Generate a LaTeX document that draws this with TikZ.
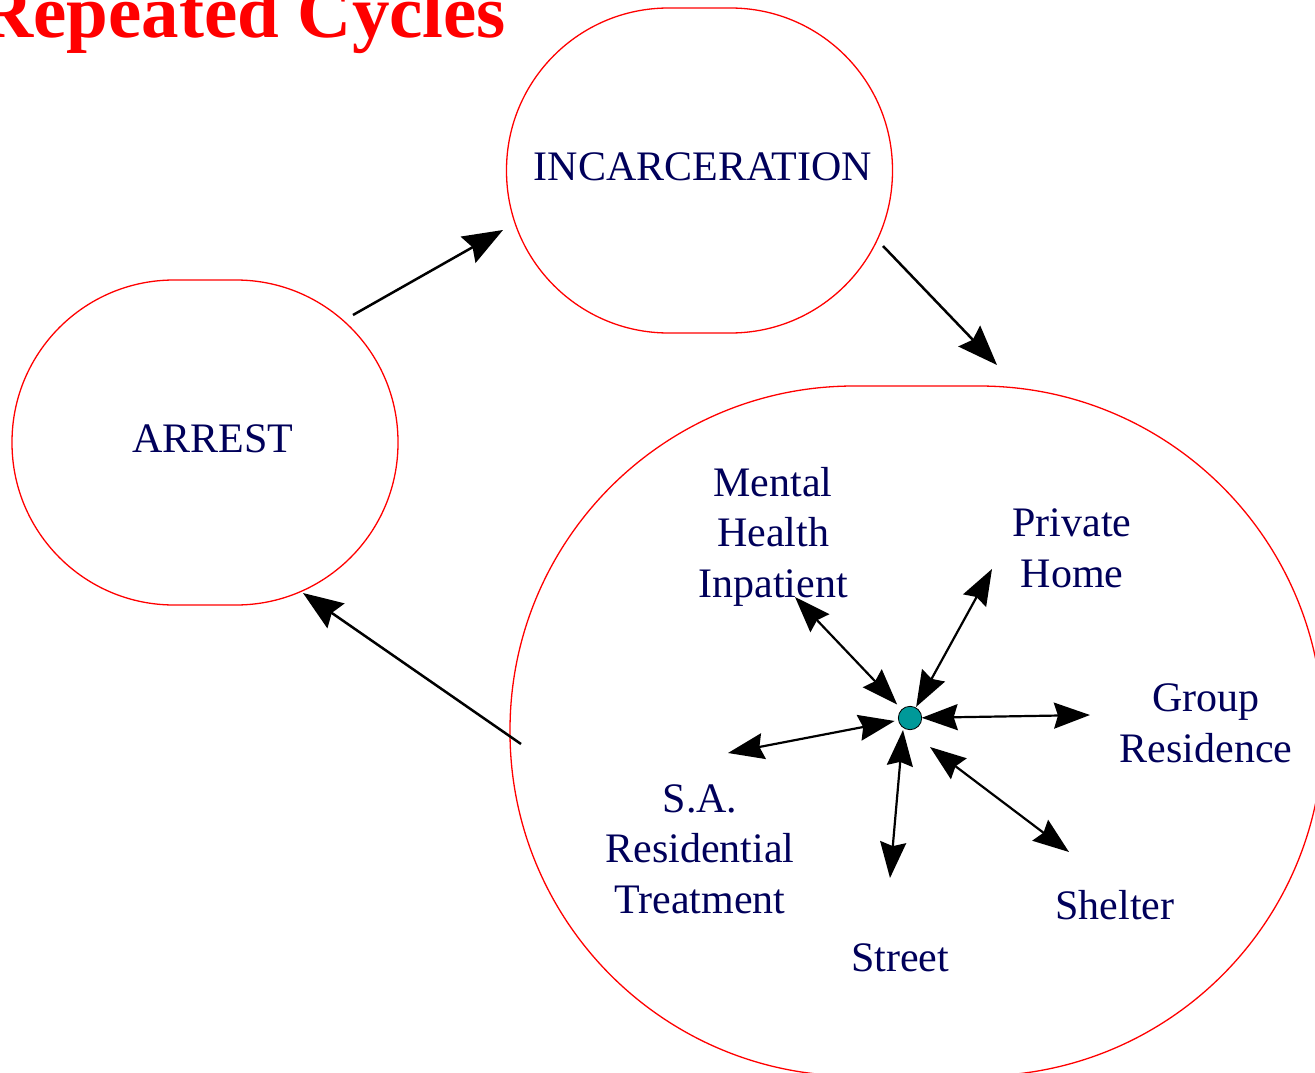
\documentclass[tikz,border=0pt]{standalone}
\usepackage{fontspec}
\setmainfont{Liberation Serif}
\usetikzlibrary{arrows.meta,calc}
\definecolor{navy}{RGB}{0,0,90}
\definecolor{hubteal}{RGB}{0,153,153}
\begin{document}
\begin{tikzpicture}[x=1pt,y=-1pt,
  blob/.style={draw=red, line width=1.3pt, inner sep=0pt, outer sep=0pt},
  lbl/.style={font=\fontsize{42}{50.5}\selectfont, text=navy, align=center, inner sep=0pt, anchor=base},
  mainarrow/.style={line width=2.5pt, -{Stealth[length=40pt,width=30pt,inset=5pt]}},
  dblarrow/.style={line width=2.2pt, {Stealth[length=36pt,width=26pt,inset=4pt]}-{Stealth[length=36pt,width=26pt,inset=4pt]}},
]
\useasboundingbox (0,0) rectangle (1315,1073);

% title
\node[font=\fontsize{75}{90}\selectfont\bfseries, text=red, anchor=base west, inner sep=0pt] (title) at (-21,38) {Repeated Cycles};

% main shapes
\node[blob, minimum width=386pt, minimum height=325pt, rounded corners=162pt] (arrest) at (205,442.5) {};
\node[lbl] (arresttxt) at (213,452) {ARREST};
\node[blob, minimum width=386pt, minimum height=325pt, rounded corners=162pt] (inc) at (699.5,170.5) {};
\node[lbl] (inctxt) at (703,180) {INCARCERATION};
\node[blob, minimum width=813pt, minimum height=690pt, rounded corners=344pt] (cycle) at (916.5,731) {};

% labels inside (base anchor = baseline of last line)
\node[lbl] (mh) at (773,597) {Mental\\Health\\Inpatient};
\node[lbl] (ph) at (1072,587) {Private\\Home};
\node[lbl] (gr) at (1206,762) {Group\\Residence};
\node[lbl] (sa) at (700,913) {S.A.\\Residential\\Treatment};
\node[lbl] (st) at (900,971) {Street};
\node[lbl] (sh) at (1115,919) {Shelter};

% main arrows
\coordinate (aOut) at (353,315);
\coordinate (iIn) at (503,230);
\coordinate (iOut) at (883,246);
\coordinate (cIn) at (997,365);
\coordinate (cOut) at (521,744);
\coordinate (aIn) at (303,593);
\draw[mainarrow] (aOut) -- (iIn);
\draw[mainarrow] (iOut) -- (cIn);
\draw[mainarrow] (cOut) -- (aIn);

% hub
\node[circle, fill=hubteal, draw=black, line width=0.8pt, minimum size=23.4pt, inner sep=0pt, outer sep=0pt] (hub) at (910,718) {};

\coordinate (mhE) at (795,597);
\coordinate (phE) at (992,569);
\coordinate (grE) at (1090,715);
\coordinate (shE) at (1069,852);
\coordinate (shI) at (930,747);
\coordinate (stE) at (890,878);
\coordinate (stI) at (903,730);
\coordinate (saE) at (728,753);

\draw[dblarrow, shorten <=7pt] (hub) -- (mhE);
\draw[dblarrow, shorten <=1pt] (hub) -- (phE);
\draw[dblarrow] (hub) -- (grE);
\draw[dblarrow, shorten <=4pt] (hub) -- (saE);
\draw[dblarrow] (stI) -- (stE);
\draw[dblarrow] (shI) -- (shE);
\end{tikzpicture}
\end{document}
